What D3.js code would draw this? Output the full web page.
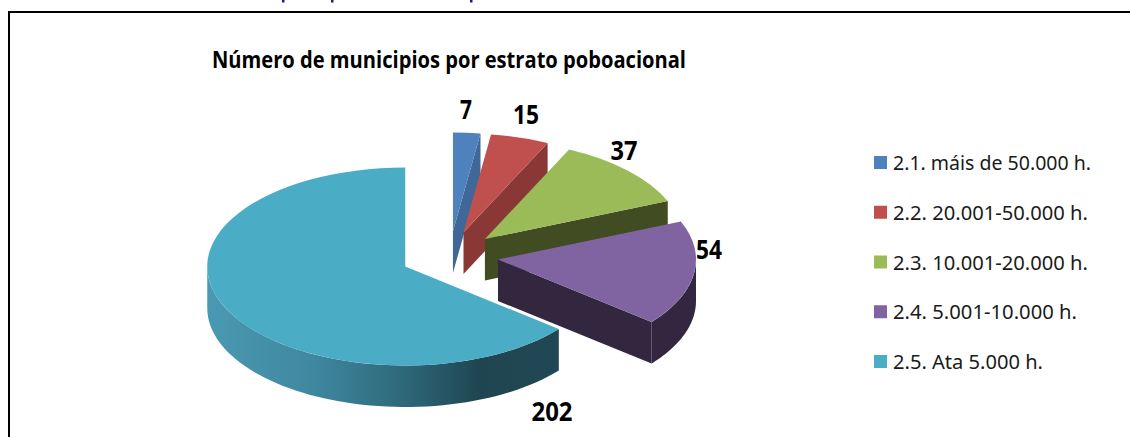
<!DOCTYPE html>
<html><head><meta charset="utf-8">
<style>html,body{margin:0;padding:0;background:#fff}svg{display:block}</style>
<script src="https://cdn.jsdelivr.net/npm/d3@7"></script>
</head><body>
<svg id="c" width="1130" height="437"></svg>
<script>
const categories = ["2.1. máis de 50.000 h.","2.2. 20.001-50.000 h.","2.3. 10.001-20.000 h.","2.4. 5.001-10.000 h.","2.5. Ata 5.000 h."];
const values = [7,15,37,54,202];
const topColors = ["#4f81bd","#c0504d","#9bbb59","#8064a2","#4bacc6"];
const wallColors = ["#3f6899","#8a3836","#414c22","#33273f","#1f4550"];
const chartTitle = "Número de municipios por estrato poboacional";

const svg = d3.select("#c");
const cx=449.5, cy=256, rx=198, tilt=0.5, depth=41.5, explode=49;
const pie = d3.pie().sort(null).value(d=>d)(values);
const arc = d3.arc().innerRadius(0).outerRadius(rx);
const pt=(a,r,off)=>[off[0]+r*Math.sin(a), off[1]-r*tilt*Math.cos(a)];
const defs = svg.append("defs");
const g = defs.append("linearGradient").attr("id","tealWall").attr("gradientUnits","userSpaceOnUse")
  .attr("x1",206).attr("x2",558).attr("y1",0).attr("y2",0);
[[0,"#4a99b2"],[0.3,"#3f88a0"],[0.55,"#2f6a7c"],[0.78,"#1f4550"],[1,"#204854"]].forEach(s=>g.append("stop").attr("offset",s[0]).attr("stop-color",s[1]));

pie.forEach((d,i)=>{
  const mid=(d.startAngle+d.endAngle)/2;
  const off=[cx+explode*Math.sin(mid), cy-explode*tilt*Math.cos(mid)];
  const layer=svg.append("g");
  const a0=Math.max(d.startAngle,Math.PI/2), a1=Math.min(d.endAngle,3*Math.PI/2);
  if(a1>a0){
    const steps=d3.range(0,61).map(k=>a0+(a1-a0)*k/60);
    const top=steps.map(a=>pt(a,rx,off));
    const bot=steps.slice().reverse().map(a=>{const p=pt(a,rx,off);return [p[0],p[1]+depth];});
    layer.append("path").attr("d",d3.line()(top.concat(bot))+"Z").attr("fill",i===4?"url(#tealWall)":wallColors[i]);
  }
  if(Math.sin(d.endAngle)>1e-6){
    const o=pt(d.endAngle,rx,off);
    layer.append("path").attr("d",d3.line()([off,o,[o[0],o[1]+depth],[off[0],off[1]+depth]])+"Z").attr("fill",wallColors[i]);
  }
  layer.append("path").attr("d",arc(d))
    .attr("transform",`translate(${off[0]},${off[1]}) scale(1,${tilt})`)
    .attr("fill",topColors[i]);
});

// frame
svg.append("path").attr("d","M9 437V12H1130").attr("fill","none").attr("stroke","#000").attr("stroke-width",2);
// descenders of the cropped heading above the frame
[283,332,471].forEach(x=>svg.append("rect").attr("x",x-1).attr("y",0).attr("width",2.5).attr("height",2.5).attr("fill","#1a1a8c"));

svg.append("text").text(chartTitle).attr("x",212).attr("y",68)
  .attr("textLength",474).attr("lengthAdjust","spacingAndGlyphs")
  .style("font","bold 24px 'Open Sans'").attr("fill","#000");

const labelPos=[[466,119],[526,124],[624,160],[709,259],[552,421]];
const labelWidths=[12,26,27,26,41];
values.forEach((v,i)=>{
  svg.append("text").text(v).attr("x",labelPos[i][0]-labelWidths[i]/2).attr("y",labelPos[i][1])
   .attr("textLength",labelWidths[i]).attr("lengthAdjust","spacingAndGlyphs")
   .style("font","bold 27px 'Open Sans'").attr("fill","#000");
});

const legendWidths=[198,195,195,184,150];
const ly=d3.scalePoint().domain(categories).range([163,362]);
categories.forEach((c,i)=>{
  svg.append("rect").attr("x",874).attr("y",ly(c)-7).attr("width",13).attr("height",13).attr("fill",topColors[i]);
  svg.append("text").text(c).attr("x",893).attr("y",ly(c)+7)
    .attr("textLength",legendWidths[i]).attr("lengthAdjust","spacingAndGlyphs")
    .style("font","20px 'Noto Sans'").attr("fill","#1a1a1a");
});
</script></body></html>
